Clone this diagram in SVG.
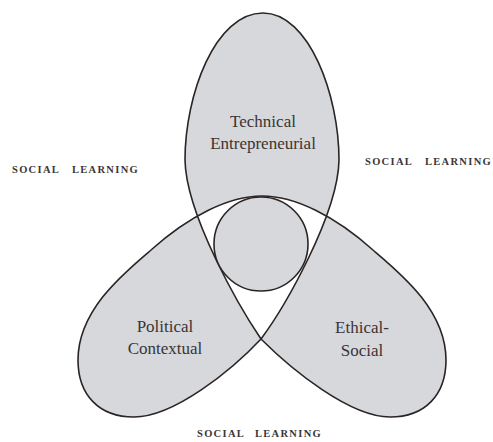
<svg xmlns="http://www.w3.org/2000/svg" width="493" height="442" viewBox="0 0 493 442">
<style>
.shape{fill:#d7d8dc;stroke:#2b2424;stroke-width:1.6;fill-rule:evenodd}
.lbl{font-family:"Liberation Serif",serif;font-size:17px;fill:#3a3434;text-anchor:middle}
.sl{font-family:"Liberation Serif",serif;font-size:10.5px;font-weight:bold;letter-spacing:1.3px;fill:#3a3636}
</style>
<rect width="493" height="442" fill="#ffffff"/>
<g id="trefoil">
<path class="shape" d="M262,196 C295,196 335,216 373,250 C400,273 446,310 446,360 C446,395 425,417 390,417 C350,417 292,370 261,339 C240,308 186,215 185,160 C185,95 215,13 263,13 C309,13 339,95 339,160 C338,215 284,308 261,339 C232,370 174,417 134,417 C99,417 78,395 78,360 C78,310 124,273 151,250 C189,216 229,196 262,196 Z"/>
</g>
<g id="core">
<circle class="shape" cx="261" cy="244" r="47"/>
</g>
<g id="node-technical">
<text class="lbl" x="263" y="127">Technical</text>
<text class="lbl" x="263" y="149">Entrepreneurial</text>
</g>
<g id="node-political">
<text class="lbl" x="165" y="332">Political</text>
<text class="lbl" x="165" y="354">Contextual</text>
</g>
<g id="node-ethical">
<text class="lbl" x="362" y="333">Ethical-</text>
<text class="lbl" x="362" y="356">Social</text>
</g>
<g id="social-learning">
<text class="sl" y="173"><tspan x="12">SOCIAL</tspan><tspan x="72">LEARNING</tspan></text>
<text class="sl" y="165"><tspan x="365">SOCIAL</tspan><tspan x="425">LEARNING</tspan></text>
<text class="sl" y="437"><tspan x="197">SOCIAL</tspan><tspan x="255">LEARNING</tspan></text>
</g>
</svg>
